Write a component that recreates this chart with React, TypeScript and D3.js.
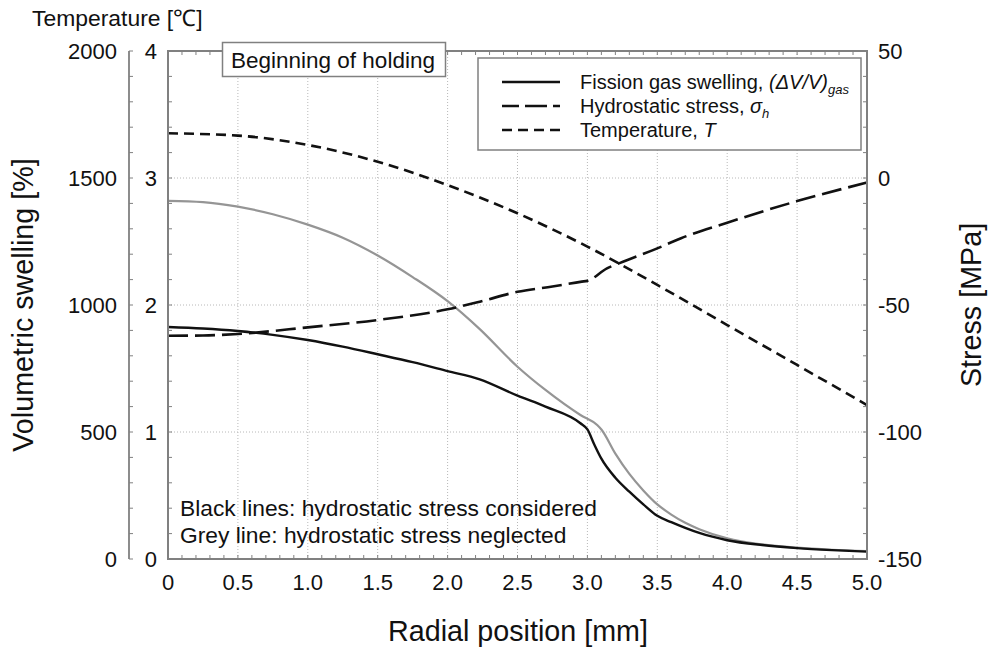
import React from "react";
import * as d3 from "d3";

// Radial positions [mm] and values
const swellR = [0, 0.25, 0.5, 0.75, 1.0, 1.25, 1.5, 1.75, 2.0, 2.23, 2.5, 2.7, 2.95, 3.0, 3.05, 3.1, 3.2, 3.3, 3.4, 3.5, 3.6, 3.7, 3.8, 4.0, 4.25, 4.5, 4.75, 5.0];
const swellConsidered = [1.827, 1.815, 1.795, 1.765, 1.724, 1.672, 1.612, 1.55, 1.48, 1.415, 1.286, 1.2, 1.069, 1.02, 0.9, 0.79, 0.64, 0.53, 0.43, 0.34, 0.29, 0.245, 0.205, 0.148, 0.11, 0.086, 0.07, 0.058];

const greyR = [0, 0.25, 0.5, 0.75, 1.0, 1.25, 1.5, 1.75, 2.0, 2.23, 2.5, 2.7, 2.95, 3.07, 3.1, 3.2, 3.3, 3.4, 3.5, 3.6, 3.7, 3.8, 4.0, 4.25, 4.5, 4.75, 5.0];
const swellNeglected = [2.82, 2.81, 2.774, 2.715, 2.633, 2.53, 2.39, 2.22, 2.03, 1.81, 1.514, 1.331, 1.134, 1.055, 1.02, 0.83, 0.67, 0.54, 0.43, 0.35, 0.285, 0.235, 0.163, 0.115, 0.089, 0.073, 0.063];

const stressR = [0, 0.25, 0.5, 1.0, 1.5, 2.0, 2.23, 2.5, 2.75, 2.96, 3.0, 3.14, 3.23, 3.5, 3.67, 4.0, 4.5, 5.0];
const stressMPa = [-62.1, -62.0, -61.4, -58.8, -55.9, -51.7, -48.7, -44.8, -42.7, -40.8, -40.5, -35.6, -33.5, -27.7, -23.7, -17.6, -9.1, -1.8];

const tempR = [0, 0.5, 1.0, 1.5, 2.0, 2.5, 3.0, 3.5, 4.0, 4.5, 5.0];
const tempC = [1676, 1667, 1630, 1564, 1472, 1361, 1230, 1079, 921, 764, 606];

const xTicks = [0, 0.5, 1.0, 1.5, 2.0, 2.5, 3.0, 3.5, 4.0, 4.5, 5.0];
const xTickLabels = ["0", "0.5", "1.0", "1.5", "2.0", "2.5", "3.0", "3.5", "4.0", "4.5", "5.0"];
const leftTicks = [0, 1, 2, 3, 4];
const tempTicks = [0, 500, 1000, 1500, 2000];
const stressTicks = [-150, -100, -50, 0, 50];

const FONT = "'Liberation Sans', Arial, Helvetica, sans-serif";

export default function App() {
  const L = 168, R = 867, T = 51, B = 559;
  const x = d3.scaleLinear().domain([0, 5]).range([L, R]);
  const yL = d3.scaleLinear().domain([0, 4]).range([B, T]);
  const yT = d3.scaleLinear().domain([0, 2000]).range([B, T]);
  const yR = d3.scaleLinear().domain([-150, 50]).range([B, T]);
  const tempAxisX = 129;

  const mk = (xs: number[], ys: number[], ys2: (v: number) => number) =>
    d3.line<number>().x((_, i) => x(xs[i])).y((v) => ys2(v)).curve(d3.curveMonotoneX)(ys) || "";

  const pBlack = mk(swellR, swellConsidered, yL);
  const pGrey = mk(greyR, swellNeglected, yL);
  const pStress = mk(stressR, stressMPa, yR);
  const pTemp = mk(tempR, tempC, yT);

  const xMinor = d3.range(0, 51).map((i) => i / 10);
  const lMinor = d3.range(0, 21).map((i) => i / 5);
  const rMinor = d3.range(-150, 51, 10);
  const tMinor = d3.range(0, 2001, 100);
  const frame = "#808080";
  const tick = 4;

  return (
    <svg width={991} height={655} style={{ position: "absolute", left: 0, top: 0, background: "#fff" }} fontFamily={FONT}>
      {/* grid */}
      <g stroke="#b8b8b8" strokeWidth={1} strokeDasharray="1,2">
        {xTicks.slice(1, -1).map((t) => (
          <line key={"gx" + t} x1={x(t)} x2={x(t)} y1={T} y2={B} />
        ))}
        {leftTicks.slice(1, -1).map((t) => (
          <line key={"gy" + t} x1={L} x2={R} y1={yL(t)} y2={yL(t)} />
        ))}
      </g>

      {/* curves */}
      <path d={pGrey} fill="none" stroke="#959595" strokeWidth={2.2} />
      <path d={pTemp} fill="none" stroke="#111" strokeWidth={2.6} strokeDasharray="10,6" />
      <path d={pStress} fill="none" stroke="#111" strokeWidth={2.6} strokeDasharray="20,7" />
      <path d={pBlack} fill="none" stroke="#111" strokeWidth={2.4} />

      {/* minor ticks */}
      <g stroke={frame} strokeWidth={1}>
        {xMinor.map((t) => (
          <g key={"xm" + t}>
            <line x1={x(t)} x2={x(t)} y1={B} y2={B - tick} />
            <line x1={x(t)} x2={x(t)} y1={T} y2={T + tick} />
          </g>
        ))}
        {lMinor.map((t) => (
          <line key={"lm" + t} x1={L} x2={L + tick} y1={yL(t)} y2={yL(t)} />
        ))}
        {rMinor.map((t) => (
          <line key={"rm" + t} x1={R} x2={R - tick} y1={yR(t)} y2={yR(t)} />
        ))}
        {tMinor.map((t) => (
          <line key={"tm" + t} x1={tempAxisX} x2={tempAxisX + tick} y1={yT(t)} y2={yT(t)} />
        ))}
      </g>

      {/* frame */}
      <rect x={L} y={T} width={R - L} height={B - T} fill="none" stroke={frame} strokeWidth={2} />
      <line x1={tempAxisX} x2={tempAxisX} y1={T} y2={B} stroke={frame} strokeWidth={1.8} />

      {/* tick labels */}
      <g fontSize={22} fill="#111">
        {xTicks.map((t, i) => (
          <text key={"xl" + t} x={x(t)} y={590} textAnchor="middle">{xTickLabels[i]}</text>
        ))}
        {leftTicks.map((t) => (
          <text key={"ll" + t} x={157} y={yL(t)} dy="0.36em" textAnchor="end">{t}</text>
        ))}
        {tempTicks.map((t) => (
          <text key={"tl" + t} x={117} y={yT(t)} dy="0.36em" textAnchor="end">{t}</text>
        ))}
        {stressTicks.map((t) => (
          <text key={"rl" + t} x={878} y={yR(t)} dy="0.36em" textAnchor="start">{t}</text>
        ))}
      </g>

      {/* axis titles */}
      <text x={32} y={26} fontSize={22.9} fill="#111">Temperature [℃]</text>
      <text transform="translate(33,305) rotate(-90)" textAnchor="middle" fontSize={28.7} fill="#111">Volumetric swelling [%]</text>
      <text transform="translate(981,305) rotate(-90)" textAnchor="middle" fontSize={28.7} fill="#111">Stress [MPa]</text>
      <text x={518} y={641} textAnchor="middle" fontSize={28.7} fill="#111">Radial position [mm]</text>

      {/* beginning of holding box */}
      <rect x={222.5} y={42.5} width={223} height={34} fill="#fff" stroke={frame} strokeWidth={1.5} />
      <text x={231} y={68} fontSize={22.5} fill="#111">Beginning of holding</text>

      {/* legend */}
      <rect x={478} y={58} width={383} height={92} fill="#fff" stroke={frame} strokeWidth={1.5} />
      <g stroke="#111" strokeWidth={2.4}>
        <line x1={502} x2={560} y1={82} y2={82} />
        <line x1={502} x2={560} y1={106} y2={106} strokeDasharray="17,6,22,6,7" />
        <line x1={502} x2={560} y1={130} y2={130} strokeDasharray="10,6" />
      </g>
      <g fontSize={20} fill="#111">
        <text x={580} y={89}>
          Fission gas swelling, <tspan fontStyle="italic">(ΔV/V)</tspan>
          <tspan fontStyle="italic" fontSize={13} dy={5}>gas</tspan>
        </text>
        <text x={580} y={113}>
          Hydrostatic stress, <tspan fontStyle="italic">σ</tspan>
          <tspan fontStyle="italic" fontSize={13} dy={5}>h</tspan>
        </text>
        <text x={580} y={137}>
          Temperature, <tspan fontStyle="italic">T</tspan>
        </text>
      </g>

      {/* annotations */}
      <g fontSize={22.8} fill="#111">
        <text x={180} y={516}>Black lines: hydrostatic stress considered</text>
        <text x={180} y={543}>Grey line: hydrostatic stress neglected</text>
      </g>
    </svg>
  );
}
